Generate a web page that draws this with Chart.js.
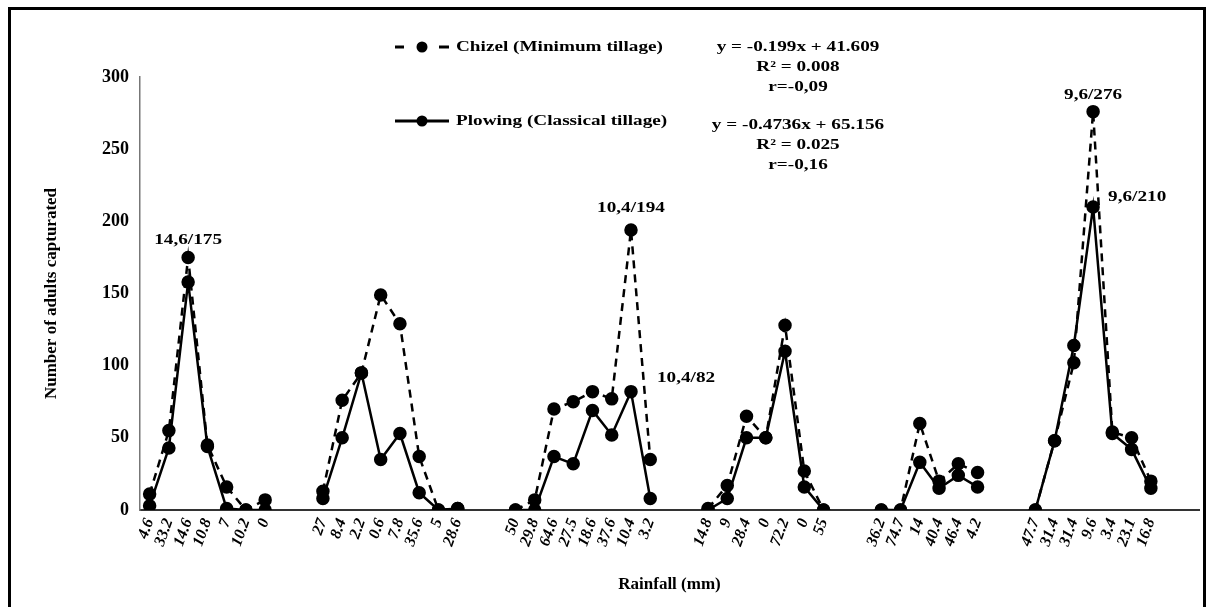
<!DOCTYPE html>
<html>
<head>
<meta charset="utf-8">
<script src="https://cdn.jsdelivr.net/npm/chart.js@4.4.0/dist/chart.umd.min.js"></script>
<style>
  html, body { margin: 0; padding: 0; background: #fff; }
  #wrap { position: relative; width: 1208px; height: 607px; overflow: hidden; }
  #frame { position: absolute; left: 8px; top: 7px; width: 1192px; height: 640px;
           border: 3px solid #000; border-bottom: none; pointer-events: none; }
  canvas { position: absolute; left: 0; top: 0; }
</style>
</head>
<body>
<div id="wrap">
  <canvas id="c" width="1208" height="607"></canvas>
  <div id="frame"></div>
</div>
<script>
// ---- Rainfall tick labels (mm), one group per sampling period ----
const rain1 = ['4.6','33.2','14.6','10.8','7','10.2','0'];
const rain2 = ['27','8.4','2.2','0.6','7.8','35.6','5','28.6'];
const rain3 = ['50','29.8','64.6','27.5','18.6','37.6','10.4','3.2'];
const rain4 = ['14.8','9','28.4','0','72.2','0','55'];
const rain5 = ['36.2','74.7','14','40.4','46.4','4.2'];
const rain6 = ['47.7','31.4','31.4','9.6','3.4','23.1','16.8'];

// ---- Chizel (Minimum tillage) adults captured ----
const chizel1 = [11, 55, 175, 45, 16, 0, 7];
const chizel2 = [13, 76, 95, 149, 129, 37, 0, 1];
const chizel3 = [0, 7, 70, 75, 82, 77, 194, 35];
const chizel4 = [1, 17, 65, 50, 128, 27, 0];
const chizel5 = [0, 0, 60, 20, 32, 26];
const chizel6 = [0, 48, 102, 276, 54, 50, 20];

// ---- Plowing (Classical tillage) adults captured ----
const plow1 = [3, 43, 158, 44, 1, 0, 0];
const plow2 = [8, 50, 95, 35, 53, 12, 0, 1];
const plow3 = [0, 0, 37, 32, 69, 52, 82, 8];
const plow4 = [0, 8, 50, 50, 110, 16, 0];
const plow5 = [0, 0, 33, 15, 24, 16];
const plow6 = [0, 48, 114, 210, 53, 42, 15];

// ---- y axis ticks ----
const yTicks = [0, 50, 100, 150, 200, 250, 300];

// ---- regression text ----
const chizelEq = ['y = -0.199x + 41.609', 'R² = 0.008', 'r=-0,09'];
const plowEq = ['y = -0.4736x + 65.156', 'R² = 0.025', 'r=-0,16'];

// ---- peak annotations: [series, group, index in group, text] ----
const peakNotes = [
  [0, 1, 2, '14,6/175'],
  [0, 3, 6, '10,4/194'],
  [1, 3, 6, '10,4/82'],
  [0, 6, 3, '9,6/276'],
  [1, 6, 3, '9,6/210']
];

// build category list with 2 empty slots between groups
const rainGroups = [rain1, rain2, rain3, rain4, rain5, rain6];
const chizelGroups = [chizel1, chizel2, chizel3, chizel4, chizel5, chizel6];
const plowGroups = [plow1, plow2, plow3, plow4, plow5, plow6];
const GAP = 2;
const labels = [], chizelData = [], plowData = [], groupStart = [];
rainGroups.forEach((g, gi) => {
  if (gi > 0) for (let k = 0; k < GAP; k++) { labels.push(''); chizelData.push(null); plowData.push(null); }
  groupStart.push(labels.length);
  g.forEach((lab, i) => { labels.push(lab); chizelData.push(chizelGroups[gi][i]); plowData.push(plowGroups[gi][i]); });
});
for (let k = 0; k < GAP; k++) { labels.push(''); chizelData.push(null); plowData.push(null); }

const SERIF = '"Liberation Serif", "Times New Roman", serif';
const SX = 1.28; // horizontal stretch of the original figure's text

function wideText(ctx, text, x, y, align) {
  ctx.save();
  ctx.translate(x, y);
  ctx.scale(SX, 1);
  ctx.textAlign = align;
  ctx.textBaseline = 'middle';
  ctx.fillText(text, 0, 0);
  ctx.restore();
}

const notesPlugin = {
  id: 'notes',
  afterDatasetsDraw(chart) {
    const ctx = chart.ctx;
    const xs = chart.scales.x, ys = chart.scales.y;
    ctx.save();
    ctx.fillStyle = '#000';
    ctx.font = 'bold 15px ' + SERIF;
    const offs = [[0, -17], [0, -22], [26, -14], [0, -17], [15, -10]];
    peakNotes.forEach((n, i) => {
      const idx = groupStart[n[1] - 1] + n[2];
      const v = n[0] === 0 ? chizelData[idx] : plowData[idx];
      const px = xs.getPixelForValue(idx), py = ys.getPixelForValue(v);
      wideText(ctx, n[3], px + offs[i][0], py + offs[i][1], (i === 2 || i === 4) ? 'left' : 'center');
    });
    // legend
    const legendRows = [
      { y: 47, dash: [9, 7], text: chart.data.datasets[0].label, eq: chizelEq, eqY: 47 },
      { y: 121, dash: [], text: chart.data.datasets[1].label, eq: plowEq, eqY: 125 }
    ];
    legendRows.forEach(r => {
      ctx.strokeStyle = '#000';
      ctx.lineWidth = 3;
      ctx.beginPath();
      if (r.dash.length) {
        ctx.moveTo(395, r.y); ctx.lineTo(404, r.y);
        ctx.moveTo(439, r.y); ctx.lineTo(449, r.y);
      } else {
        ctx.moveTo(395, r.y); ctx.lineTo(449, r.y);
      }
      ctx.stroke();
      ctx.beginPath();
      ctx.arc(422, r.y, 5.5, 0, Math.PI * 2);
      ctx.fill();
      ctx.font = 'bold 15px ' + SERIF;
      wideText(ctx, r.text, 456, r.y, 'left');
      r.eq.forEach((t, k) => wideText(ctx, t, 798, r.eqY + k * 20, 'center'));
    });
    ctx.restore();
  }
};

new Chart(document.getElementById('c'), {
  type: 'line',
  data: {
    labels: labels,
    datasets: [
      {
        label: 'Chizel (Minimum tillage)',
        data: chizelData,
        borderColor: '#000',
        backgroundColor: '#000',
        borderWidth: 2.5,
        borderDash: [8, 6],
        pointRadius: 5.5,
        pointBackgroundColor: '#000',
        pointBorderColor: '#000',
        tension: 0,
        spanGaps: false
      },
      {
        label: 'Plowing (Classical tillage)',
        data: plowData,
        borderColor: '#000',
        backgroundColor: '#000',
        borderWidth: 2.5,
        pointRadius: 5.5,
        pointBackgroundColor: '#000',
        pointBorderColor: '#000',
        tension: 0,
        spanGaps: false
      }
    ]
  },
  options: {
    responsive: false,
    animation: false,
    events: [],
    layout: { padding: { left: 37, right: 9, top: 77, bottom: 10 } },
    plugins: { legend: { display: false }, tooltip: { enabled: false } },
    scales: {
      x: {
        type: 'category',
        offset: true,
        grid: { display: false, drawTicks: false },
        border: { display: true, color: '#333', width: 2 },
        ticks: {
          autoSkip: false,
          maxRotation: 70,
          minRotation: 70,
          padding: 6,
          color: '#000',
          font: { family: SERIF, size: 16, weight: 'bold', style: 'italic' }
        },
        title: {
          display: true,
          text: 'Rainfall (mm)',
          color: '#000',
          padding: { top: 0, bottom: 2 },
          font: { family: SERIF, size: 17, weight: 'bold' }
        },
        afterFit(scale) { scale.height = 87; scale.paddingRight = 0; scale.paddingLeft = 0; }
      },
      y: {
        min: 0,
        max: 300,
        afterBuildTicks(scale) { scale.ticks = yTicks.map(v => ({ value: v })); },
        grid: { display: false, drawTicks: false },
        border: { display: true, color: '#777', width: 1.5 },
        ticks: {
          padding: 11,
          color: '#000',
          font: { family: SERIF, size: 18, weight: 'bold' }
        },
        title: {
          display: true,
          text: 'Number of adults capturated',
          color: '#000',
          padding: 4,
          font: { family: SERIF, size: 17, weight: 'bold' }
        },
        afterFit(scale) { scale.width = 103; }
      }
    }
  },
  plugins: [notesPlugin]
});
</script>
</body>
</html>
